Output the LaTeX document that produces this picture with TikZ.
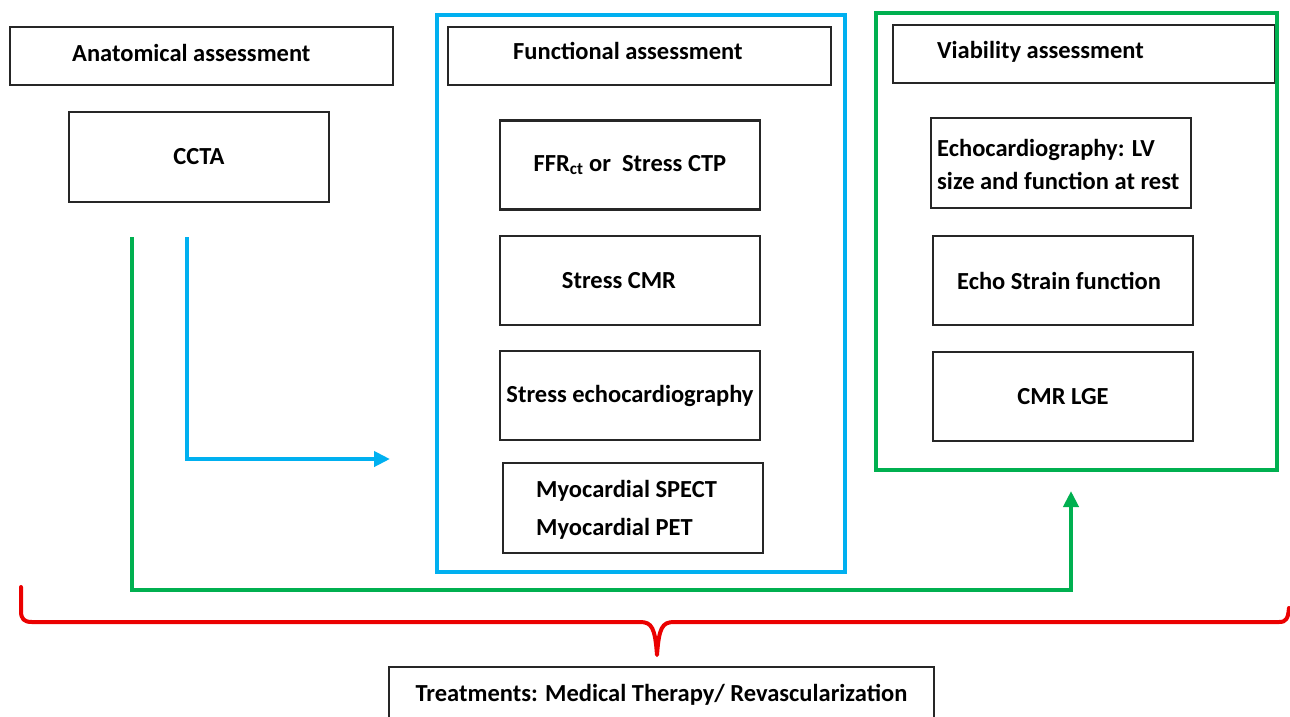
\documentclass[tikz,border=0pt]{standalone}
\usepackage{fontspec}
\setmainfont{Carlito}
\usetikzlibrary{arrows.meta}
\definecolor{cblue}{RGB}{0,176,240}
\definecolor{cgreen}{RGB}{0,176,80}
\definecolor{cred}{RGB}{235,0,0}
\begin{document}
\begin{tikzpicture}[x=1pt,y=-1pt,
  box/.style={draw=black!85, line width=2.2pt, minimum width=260pt, minimum height=90pt,
    inner sep=0pt, align=center, font=\fontsize{24.5}{29}\selectfont\bfseries},
  hdr/.style={box, minimum width=383pt, minimum height=58pt},
  txt/.style={inner sep=0pt, anchor=west, align=left, font=\fontsize{24.5}{29}\selectfont\bfseries},
  frame/.style={line width=4pt},
  conn/.style={line width=4pt, -{Triangle[length=16pt,width=15pt]}}]
\useasboundingbox (0,0) rectangle (1290,716);
\clip (0,0) rectangle (1290,716);
% left column
\node[hdr] (anat) at (201.5,56) {};
\node[txt] (anatT) at (72,53) {Anatomical assessment};
\node[box] (ccta) at (199,157) {CCTA};
% functional column
\draw[frame, cblue] (437,15) rectangle (845,572);
\node[hdr] (func) at (639.5,56) {};
\node[txt] (funcT) at (513,51) {Functional assessment};
\node[box, minimum height=89pt] (ffr) at (630,165) {FFR\textsubscript{ct} or\ \ Stress CTP};
\node[box, minimum height=89pt] (scmr) at (630,280.5) {Stress CMR\hspace*{22pt}};
\node[box, minimum height=89pt] (secho) at (630,395.5) {Stress echocardiography};
\node[box] (myo) at (633,508) {};
\node[txt, font=\fontsize{24.5}{38}\selectfont\bfseries] (myoT) at (536,510) {Myocardial SPECT\\Myocardial PET};
% viability column
\node[hdr, minimum width=382pt] (via) at (1084,54) {};
\node[txt] (viaT) at (937,52) {Viability assessment};
\draw[frame, cgreen] (876,13) rectangle (1277,470);
\node[box] (echo) at (1061,163) {};
\node[txt, font=\fontsize{24.5}{33}\selectfont\bfseries] (echoT) at (937,164) {Echocardiography: LV\\size and function at rest};
\node[box, minimum height=89pt] (strain) at (1063,280.5) {Echo Strain function\hspace*{8pt}};
\node[box, minimum height=89pt] (lge) at (1063,396.5) {CMR LGE};
% treatments
\node[box, minimum width=545pt, minimum height=56pt] (treat) at (661.5,695) {Treatments: Medical Therapy/ Revascularization};
% connectors
\coordinate (bS) at (187,237);
\coordinate (bE) at (390,459);
\draw[conn, cblue] (bS) |- (bE);
\coordinate (gS) at (132,237);
\coordinate (gM) at (1071,590);
\draw[conn, cgreen] (gS) |- (gM) -- (1071,491);
% red brace
\coordinate (rTip) at (657,655);
\draw[cred, line width=4pt, line cap=round, line join=round]
  (21,587) -- (21,611) .. controls (21,619) and (24,622) .. (32,622)
  -- (640,622) .. controls (652,622) and (655,628) .. (rTip)
  .. controls (659,628) and (662,622) .. (674,622)
  -- (1279,622) .. controls (1286,622) and (1288,619) .. (1289,608);
\end{tikzpicture}
\end{document}
